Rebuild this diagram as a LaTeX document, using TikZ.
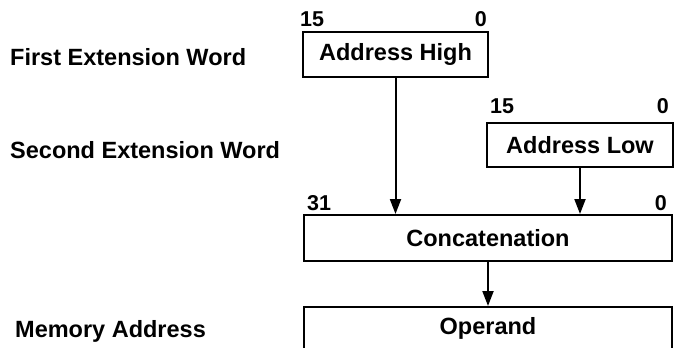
\documentclass[tikz,border=0pt]{standalone}
\usepackage{fontspec}
\setmainfont{Liberation Sans}
\usetikzlibrary{arrows.meta}
\begin{document}
\begin{tikzpicture}[x=1pt,y=-1pt,
  box/.style={draw,line width=2pt,rectangle,inner sep=0pt,font=\fontsize{23.5}{26}\selectfont\bfseries},
  bitnum/.style={inner sep=0pt,font=\fontsize{21.5}{24}\selectfont\bfseries},
  lbl/.style={inner sep=0pt,anchor=base west,font=\fontsize{23.5}{26}\selectfont\bfseries},
  arr/.style={line width=2pt,-{Triangle[length=15pt,width=11pt]}}]
\useasboundingbox (0,0) rectangle (678,348);
\clip (0,0) rectangle (678,348);
% left labels
\node[lbl] (l1) at (10,65) {First Extension Word};
\node[lbl] (l2) at (10,158) {Second Extension Word};
\node[lbl] (l3) at (15,337) {Memory Address};
% boxes
\node[box,minimum width=185pt,minimum height=45pt] (ah) at (395.5,54.5) {Address High};
\node[box,minimum width=186pt,minimum height=44pt] (al) at (580,145) {Address Low};
\node[box,minimum width=368pt,minimum height=46pt] (cc) at (488,238) {Concatenation};
\node[box,minimum width=368pt,minimum height=42pt] (op) at (488,328) {Operand};
% bit numbers
\node[bitnum,anchor=base west] (ah15) at (300,27) {15};
\node[bitnum,anchor=base east] (ah0) at (487,27) {0};
\node[bitnum,anchor=base west] (al15) at (490,113) {15};
\node[bitnum,anchor=base east] (al0) at (669,113) {0};
\node[bitnum,anchor=base west] (cc31) at (307,210) {31};
\node[bitnum,anchor=base east] (cc0) at (667,210) {0};
% arrows
\draw[arr] (ah.south) -- (ah.south |- cc.north);
\draw[arr] (al.south) -- (al.south |- cc.north);
\draw[arr] (cc.south) -- (op.north);
\end{tikzpicture}
\end{document}
